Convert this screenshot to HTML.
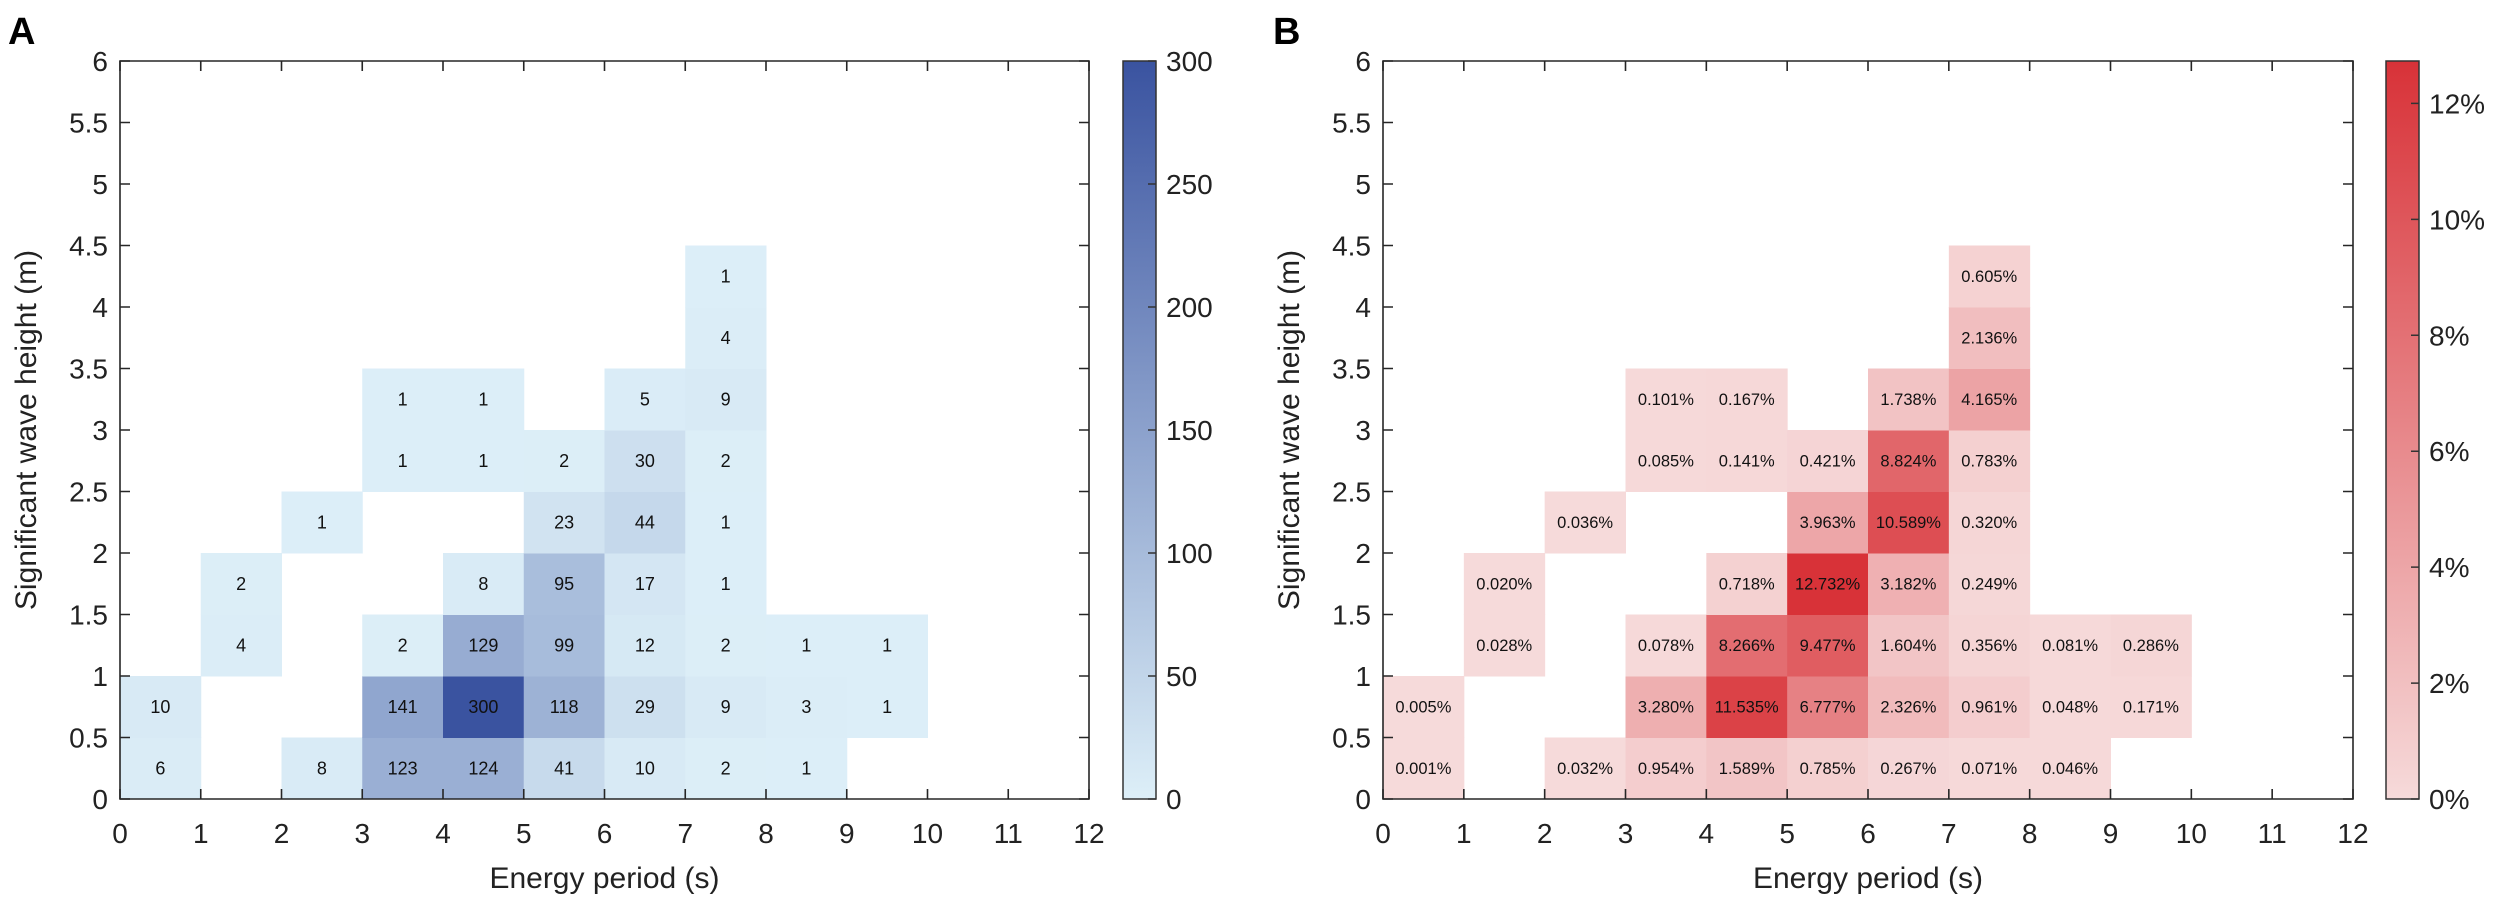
<!DOCTYPE html>
<html><head><meta charset="utf-8"><style>
html,body{margin:0;padding:0;background:#fff}
svg text{font-family:"Liberation Sans",Arial,sans-serif}
</style></head><body>
<svg id="s" width="2500" height="908" xmlns="http://www.w3.org/2000/svg">
<defs>
<linearGradient id="gb" x1="0" y1="1" x2="0" y2="0"><stop offset="0" stop-color="rgb(221,239,248)"/><stop offset="1" stop-color="rgb(58,83,160)"/></linearGradient>
<linearGradient id="gr" x1="0" y1="1" x2="0" y2="0"><stop offset="0" stop-color="rgb(246,218,218)"/><stop offset="1" stop-color="rgb(216,50,56)"/></linearGradient>
</defs>
<text x="8" y="44" font-size="38" font-weight="bold">A</text>
<text x="1273" y="44" font-size="38" font-weight="bold">B</text>
</svg>
<script>
const s=document.getElementById('s');const NS='http://www.w3.org/2000/svg';
function el(t,a,txt){const e=document.createElementNS(NS,t);for(const k in a)e.setAttribute(k,a[k]);if(txt!==undefined)e.textContent=txt;s.appendChild(e);return e;}
const A=[[0,0,6],[2,0,8],[3,0,123],[4,0,124],[5,0,41],[6,0,10],[7,0,2],[8,0,1],
[0,1,10],[3,1,141],[4,1,300],[5,1,118],[6,1,29],[7,1,9],[8,1,3],[9,1,1],
[1,2,4],[3,2,2],[4,2,129],[5,2,99],[6,2,12],[7,2,2],[8,2,1],[9,2,1],
[1,3,2],[4,3,8],[5,3,95],[6,3,17],[7,3,1],
[2,4,1],[5,4,23],[6,4,44],[7,4,1],
[3,5,1],[4,5,1],[5,5,2],[6,5,30],[7,5,2],
[3,6,1],[4,6,1],[6,6,5],[7,6,9],[7,7,4],[7,8,1]];
const B=[[0,0,0.001],[2,0,0.032],[3,0,0.954],[4,0,1.589],[5,0,0.785],[6,0,0.267],[7,0,0.071],[8,0,0.046],
[0,1,0.005],[3,1,3.280],[4,1,11.535],[5,1,6.777],[6,1,2.326],[7,1,0.961],[8,1,0.048],[9,1,0.171],
[1,2,0.028],[3,2,0.078],[4,2,8.266],[5,2,9.477],[6,2,1.604],[7,2,0.356],[8,2,0.081],[9,2,0.286],
[1,3,0.020],[4,3,0.718],[5,3,12.732],[6,3,3.182],[7,3,0.249],
[2,4,0.036],[5,4,3.963],[6,4,10.589],[7,4,0.320],
[3,5,0.085],[4,5,0.141],[5,5,0.421],[6,5,8.824],[7,5,0.783],
[3,6,0.101],[4,6,0.167],[6,6,1.738],[7,6,4.165],[7,7,2.136],[7,8,0.605]];
function lerp(c0,c1,f){return 'rgb('+c0.map((v,i)=>Math.round(v+(c1[i]-v)*f)).join(',')+')';}
const y0=61,y1=799,H=y1-y0;
function panel(X0,X1,data,max,c0,c1,fmt,fs,cbx,grad,ticks){
 const w=(X1-X0)/12,h=H/12;
 for(const [i,j,v] of data){
  const x=X0+i*w,y=y1-(j+1)*h;
  el('rect',{x:x,y:y,width:w+0.5,height:h+0.5,fill:lerp(c0,c1,v/max)});
  el('text',{x:x+w/2,y:y+h/2+fs*0.36,'font-size':fs,'text-anchor':'middle',fill:'#111'},fmt(v));
 }
 el('path',{d:`M${X0},${y0}H${X1}V${y1}H${X0}Z`,fill:'none',stroke:'#262626','stroke-width':1.6});
 let d='';
 for(let k=0;k<=12;k++){const x=X0+k*w;d+=`M${x},${y1}v-10M${x},${y0}v10`;
  el('text',{x:x,y:y1+44,'font-size':28,'text-anchor':'middle',fill:'#222'},k);}
 for(let k=0;k<=12;k++){const y=y1-k*h;d+=`M${X0},${y}h10M${X1},${y}h-10`;
  el('text',{x:X0-12,y:y+10,'font-size':28,'text-anchor':'end',fill:'#222'},k%2?(k/2).toFixed(1):k/2);}
 el('path',{d:d,stroke:'#262626','stroke-width':1.6,fill:'none'});
 el('text',{x:(X0+X1)/2,y:888,'font-size':30,'text-anchor':'middle',fill:'#222'},'Energy period (s)');
 const ly=X0-84;el('text',{x:ly,y:430,'font-size':30,'text-anchor':'middle',fill:'#222',transform:`rotate(-90 ${ly} 430)`},'Significant wave height (m)');
 el('rect',{x:cbx,y:y0,width:33,height:H,fill:`url(#${grad})`,stroke:'#333','stroke-width':1.5});
 let dd='';
 for(const [v,l] of ticks){const y=y1-H*v/max;dd+=`M${cbx+33},${y}h-8`;
  el('text',{x:cbx+43,y:y+10,'font-size':28,fill:'#222'},l);}
 el('path',{d:dd,stroke:'#333','stroke-width':1.5});
}
panel(120,1089,A,300,[221,239,248],[58,83,160],v=>v,18,1123,'gb',[[0,'0'],[50,'50'],[100,'100'],[150,'150'],[200,'200'],[250,'250'],[300,'300']]);
panel(1383,2353,B,12.732,[246,218,218],[216,50,56],v=>v.toFixed(3)+'%',16.5,2386,'gr',[[0,'0%'],[2,'2%'],[4,'4%'],[6,'6%'],[8,'8%'],[10,'10%'],[12,'12%']]);
</script>
</body></html>
